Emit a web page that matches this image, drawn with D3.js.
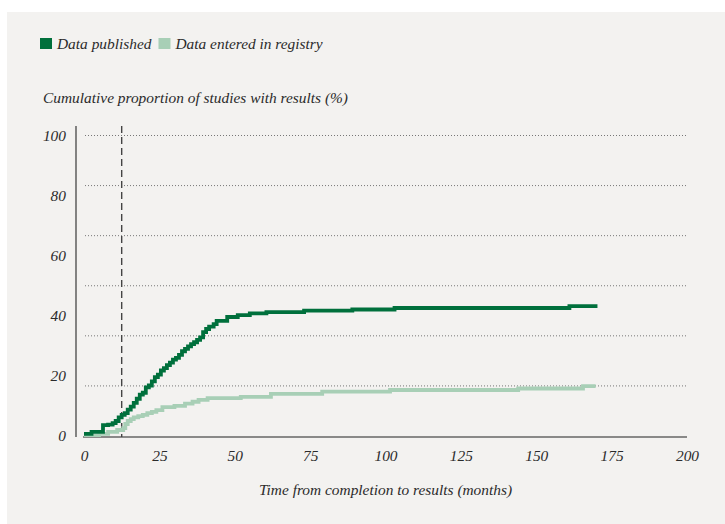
<!DOCTYPE html>
<html>
<head>
<meta charset="utf-8">
<script src="https://cdn.jsdelivr.net/npm/d3@7"></script>
<style>
  body { margin: 0; background: #fff; }
  text { font-family: "Liberation Serif", serif; font-style: italic; fill: #2b2b2b; }
</style>
</head>
<body>
<svg id="chart" width="725" height="524"></svg>
<script>
// cumulative share of studies with results
const publishedMonths = [0, 2.5, 6.3, 8, 9.5, 10.5, 11.5, 12.5, 13.5, 14.5, 15.5, 16.5, 17.5, 18.5, 19.5, 20.5, 21.5, 22.5, 23.5, 24.5, 25.5, 26.5, 27.5, 28.5, 29.5, 30.5, 31.5, 32.5, 33.5, 34.5, 35.5, 36.5, 37.5, 38.5, 39.5, 40.5, 41.5, 43, 44, 47.5, 51, 55, 60.5, 73, 89, 103, 161, 170.3];
const publishedValues = [0.7, 1.4, 3.6, 3.8, 4.3, 5.0, 6.2, 7.0, 7.6, 8.8, 9.8, 11.0, 12.4, 13.8, 14.4, 16.2, 16.8, 18.2, 19.6, 20.4, 21.8, 22.6, 23.6, 24.4, 25.4, 26.0, 27.0, 28.2, 29.0, 29.8, 30.6, 31.2, 32.0, 32.8, 34.6, 35.6, 36.4, 37.2, 38.3, 39.6, 40.2, 40.8, 41.2, 41.7, 42.1, 42.6, 43.2, 43.2];

const registryMonths = [0, 5, 8, 11, 13, 13.7, 14.5, 15.5, 16.5, 18, 19.5, 21, 22.5, 24, 26, 30, 33.5, 36, 38, 41, 52, 62, 79, 101.5, 144, 165.5, 169.7];
const registryValues = [0.3, 0.7, 1.4, 2.0, 2.6, 4.0, 5.0, 5.6, 6.2, 6.6, 7.0, 7.6, 8.0, 8.6, 9.6, 10.0, 10.8, 11.4, 12.0, 12.6, 13.0, 14.0, 14.8, 15.3, 15.8, 16.6, 16.6];

const xTicks = [0, 25, 50, 75, 100, 125, 150, 175, 200];
const yTicks = [0, 20, 40, 60, 80, 100];
const gridValues = [100 / 6, 200 / 6, 300 / 6, 400 / 6, 500 / 6, 100];
const markerMonth = 12.5;

const legendItems = [
  { label: "Data published", color: "#00703c" },
  { label: "Data entered in registry", color: "#a8cfb6" }
];

const svg = d3.select("#chart");

svg.append("rect")
  .attr("x", 7).attr("y", 12)
  .attr("width", 718).attr("height", 512)
  .attr("fill", "#f3f2f0");

const x = d3.scaleLinear().domain([0, 200]).range([84, 687]);
const y = d3.scaleLinear().domain([0, 100]).range([436, 135.5]);

// legend
let lx = 40;
legendItems.forEach(item => {
  svg.append("rect")
    .attr("x", lx).attr("y", 38)
    .attr("width", 12).attr("height", 11)
    .attr("fill", item.color);
  const t = svg.append("text")
    .attr("x", lx + 17).attr("y", 48.5)
    .attr("font-size", 15.4)
    .text(item.label);
  lx += 17 + t.node().getComputedTextLength() + 7;
});

svg.append("text")
  .attr("x", 43).attr("y", 103)
  .attr("font-size", 15.4)
  .text("Cumulative proportion of studies with results (%)");

// dotted grid
svg.append("g")
  .selectAll("line")
  .data(gridValues)
  .enter()
  .append("line")
  .attr("x1", x(0) + 1).attr("x2", x(200))
  .attr("y1", d => y(d)).attr("y2", d => y(d))
  .attr("stroke", "#777")
  .attr("stroke-width", 1)
  .attr("stroke-dasharray", "1,2");

// y axis
const yAxis = svg.append("g").attr("transform", "translate(76,0)")
  .call(d3.axisLeft(y).tickValues(yTicks).tickSize(0).tickFormat(d3.format("d")));
yAxis.select(".domain").remove();
yAxis.append("line")
  .attr("y1", 126).attr("y2", 437)
  .attr("stroke", "#666").attr("stroke-width", 1.6);
yAxis.selectAll(".tick text")
  .attr("x", -10)
  .attr("font-size", 15.4)
  .attr("font-family", "Liberation Serif")
  .attr("font-style", "italic")
  .attr("fill", "#2b2b2b");

// x axis
const xAxis = svg.append("g").attr("transform", "translate(0,437)")
  .call(d3.axisBottom(x).tickValues(xTicks).tickSize(0).tickFormat(d3.format("d")));
xAxis.select(".domain").remove();
xAxis.append("line")
  .attr("x1", x(0) - 1).attr("x2", x(200))
  .attr("stroke", "#666").attr("stroke-width", 1.6);
xAxis.selectAll(".tick text")
  .attr("y", 13)
  .attr("font-size", 15.4)
  .attr("font-family", "Liberation Serif")
  .attr("font-style", "italic")
  .attr("fill", "#2b2b2b");

svg.append("text")
  .attr("x", x(100)).attr("y", 495)
  .attr("text-anchor", "middle")
  .attr("font-size", 15.4)
  .text("Time from completion to results (months)");

// dashed marker at one year
svg.append("line")
  .attr("x1", x(markerMonth)).attr("x2", x(markerMonth))
  .attr("y1", 126).attr("y2", 437)
  .attr("stroke", "#444")
  .attr("stroke-width", 1.4)
  .attr("stroke-dasharray", "7,4");

const line = d3.line()
  .x(d => x(d[0]))
  .y(d => y(d[1]))
  .curve(d3.curveStepAfter);

const series = [
  { months: registryMonths, values: registryValues, color: legendItems[1].color },
  { months: publishedMonths, values: publishedValues, color: legendItems[0].color }
];

svg.append("g")
  .selectAll("path")
  .data(series)
  .enter()
  .append("path")
  .attr("d", s => line(s.months.map((m, i) => [m, s.values[i]])))
  .attr("fill", "none")
  .attr("stroke", s => s.color)
  .attr("stroke-width", 3.8);
</script>
</body>
</html>
